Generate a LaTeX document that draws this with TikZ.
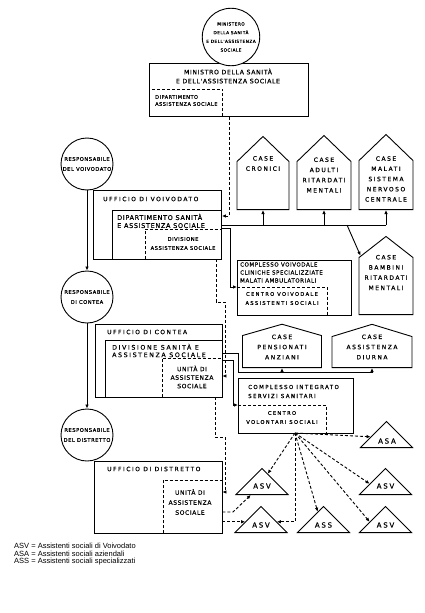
\documentclass[tikz,border=0pt]{standalone}
\usepackage{fontspec}
\setmainfont{Liberation Sans}
\newfontfamily\scritta[LetterSpace=10, FakeBold=0.4]{DejaVu Sans}
\newfontfamily\scrittalarga[LetterSpace=25, FakeBold=0.4]{DejaVu Sans}
\usetikzlibrary{shapes.geometric,shapes.symbols,arrows.meta}

\newcommand{\fgrande}{\scritta\fontsize{6.2}{9}\selectfont}
\newcommand{\fmedio}{\scritta\fontsize{6.5}{8}\selectfont}
\newcommand{\fufficio}{\scrittalarga\fontsize{6}{8}\selectfont}
\newcommand{\fpiccolo}{\scritta\fontsize{5}{7}\selectfont}
\newcommand{\fcerchio}{\scritta\fontsize{5.2}{10}\selectfont}
\newcommand{\fcasa}{\scrittalarga\fontsize{6}{10.2}\selectfont}
\newcommand{\fsigla}{\scrittalarga\fontsize{7}{8}\selectfont}

\tikzset{
  linea/.style={line width=0.9pt},
  testo/.style={inner sep=0pt, align=center, font=\fmedio},
  ufficio/.style={draw, linea, rectangle, anchor=north west, inner sep=0pt},
  sottobox/.style={rectangle, anchor=north west, inner sep=0pt},
  cerchio/.style={draw, linea, circle, minimum size=52pt, inner sep=0pt, fill=white, align=center, font=\fcerchio},
  casa/.style={draw, linea, signal, signal to=north, signal from=nowhere, inner sep=0pt, anchor=south},
  triangolo/.style={draw, linea, isosceles triangle, isosceles triangle apex angle=90,
    isosceles triangle stretches, shape border rotate=90, inner sep=0pt,
    minimum width=52pt, minimum height=26pt, anchor=lower side},
  freccia/.style={linea, -{Latex[length=4pt,width=3.5pt]}},
  tratto/.style={linea, dash pattern=on 3pt off 2pt},
}

\begin{document}
\begin{tikzpicture}[x=1pt, y=-1pt]
  \useasboundingbox (0,0) rectangle (424,613);

  % Ministero
  \node[ufficio, minimum width=159pt, minimum height=53pt] (ministro) at (149,63) {};
  \node[sottobox, minimum width=73pt, minimum height=27pt] (dipm) at (149,89) {};
  \draw[tratto] (dipm.south east) |- (dipm.north west);
  \node[cerchio, font=\scritta\fontsize{4.3}{8.7}\selectfont] (ministero) at (231,37) {MINISTERO\\DELLA SANITÀ\\E DELL'ASSISTENZA\\SOCIALE};
  \node[testo, font=\fgrande] (ministro-t) at (228,76) {MINISTRO DELLA SANITÀ\\E DELL'ASSISTENZA SOCIALE};
  \node[testo, font=\fpiccolo, align=left, anchor=west] (dipm-t) at (155,100.5) {DIPARTIMENTO\\ASSISTENZA SOCIALE};

  % Voivodato
  \node[ufficio, minimum width=128pt, minimum height=69pt] (ufv) at (93,190) {};
  \node[ufficio, minimum width=109pt, minimum height=49pt] (dipv) at (112,210) {};
  \node[sottobox, minimum width=76pt, minimum height=30pt] (divv) at (145,229) {};
  \draw[tratto] (divv.south west) |- (divv.north east);
  \node[cerchio] (resv) at (87,164) {RESPONSABILE\\DEL VOIVODATO};
  \node[testo, font=\fufficio, anchor=west] (ufv-t) at (103,199) {UFFICIO DI VOIVODATO};
  \node[testo, align=left, anchor=west] (dipv-t) at (117,221) {DIPARTIMENTO SANITÀ\\E ASSISTENZA SOCIALE};
  \node[testo, font=\scritta\fontsize{5.2}{9}\selectfont] (divv-t) at (183,243.5) {DIVISIONE\\ASSISTENZA SOCIALE};

  % Contea
  \node[ufficio, minimum width=127pt, minimum height=73pt] (ufc) at (95,324) {};
  \node[ufficio, minimum width=117pt, minimum height=57pt] (divc) at (105,340) {};
  \node[sottobox, minimum width=60pt, minimum height=39pt] (unc) at (162,358) {};
  \draw[tratto] (unc.south west) |- (unc.north east);
  \node[cerchio] (resc) at (87,297) {RESPONSABILE\\DI CONTEA};
  \node[testo, font=\fufficio, anchor=west] (ufc-t) at (107,332) {UFFICIO DI CONTEA};
  \node[testo, font=\scrittalarga\fontsize{6.3}{7.5}\selectfont, align=left, anchor=west] (divc-t) at (112,350.5) {DIVISIONE SANITÀ E\\ASSISTENZA SOCIALE};
  \node[testo, font=\scritta\fontsize{6}{8.5}\selectfont] (unc-t) at (192,377) {UNITÀ DI\\ASSISTENZA\\SOCIALE};

  % Distretto
  \node[ufficio, minimum width=128pt, minimum height=72pt] (ufd) at (94,461) {};
  \node[sottobox, minimum width=59pt, minimum height=53pt] (und) at (163,480) {};
  \draw[tratto] (und.south west) |- (und.north east);
  \node[cerchio] (resd) at (87,435) {RESPONSABILE\\DEL DISTRETTO};
  \node[testo, font=\fufficio, anchor=west] (ufd-t) at (107,469) {UFFICIO DI DISTRETTO};
  \node[testo, font=\scritta\fontsize{6}{10}\selectfont] (und-t) at (190,502) {UNITÀ DI\\ASSISTENZA\\SOCIALE};

  % Case
  \node[casa, minimum width=52pt, minimum height=48pt, signal pointer angle=92] (cronici) at (263,210) {};
  \node[casa, minimum width=54pt, minimum height=48pt, signal pointer angle=92] (adulti) at (324,210) {};
  \node[casa, minimum width=54pt, minimum height=49pt, signal pointer angle=92] (malati) at (386,210) {};
  \node[casa, minimum width=54pt, minimum height=57pt, signal pointer angle=104] (bambini) at (386,315) {};
  \node[casa, minimum width=79pt, minimum height=32pt, signal pointer angle=148] (pensionati) at (282,368) {};
  \node[casa, minimum width=80pt, minimum height=31pt, signal pointer angle=146] (diurna) at (372,368) {};
  \node[testo, font=\fcasa] (cronici-t) at (263,163.5) {CASE\\CRONICI};
  \node[testo, font=\fcasa] (adulti-t) at (324,175) {CASE\\ADULTI\\RITARDATI\\MENTALI};
  \node[testo, font=\fcasa] (malati-t) at (386,179) {CASE\\MALATI\\SISTEMA\\NERVOSO\\CENTRALE};
  \node[testo, font=\fcasa] (bambini-t) at (386,272.5) {CASE\\BAMBINI\\RITARDATI\\MENTALI};
  \node[testo, font=\fcasa] (pensionati-t) at (282,347) {CASE\\PENSIONATI\\ANZIANI};
  \node[testo, font=\fcasa] (diurna-t) at (372,347) {CASE\\ASSISTENZA\\DIURNA};

  % Complessi
  \node[ufficio, minimum width=114pt, minimum height=55pt] (covo) at (237,260) {};
  \node[sottobox, minimum width=90pt, minimum height=28pt] (cvc) at (237,287) {};
  \draw[tratto] (cvc.north west) -| (cvc.south east);
  \node[testo, font=\scritta\fontsize{5.5}{8}\selectfont, align=left, anchor=west] (covo-t) at (240,272.5) {COMPLESSO VOIVODALE\\CLINICHE SPECIALIZZIATE\\MALATI AMBULATORIALI};
  \node[testo, font=\scrittalarga\fontsize{5.2}{9}\selectfont] (cvc-t) at (282,298.5) {CENTRO VOIVODALE\\ASSISTENTI SOCIALI};
  \node[ufficio, minimum width=115pt, minimum height=55pt] (coint) at (238,378) {};
  \node[sottobox, minimum width=88pt, minimum height=28pt] (cvs) at (238,405) {};
  \draw[tratto] (cvs.north west) -| (cvs.south east);
  \node[testo, font=\scrittalarga\fontsize{5.5}{9}\selectfont, align=left, anchor=west] (coint-t) at (248,391.5) {COMPLESSO INTEGRATO\\SERVIZI SANITARI};
  \node[testo, font=\scrittalarga\fontsize{5.2}{9}\selectfont] (cvs-t) at (282,417.5) {CENTRO\\VOLONTARI SOCIALI};

  % Assistenti sociali
  \node[triangolo] (asa) at (386.5,448) {};
  \node[triangolo] (asvA) at (262,495) {};
  \node[triangolo] (asvB) at (261,533) {};
  \node[triangolo] (ass) at (323.5,533) {};
  \node[triangolo] (asvC) at (385.5,495) {};
  \node[triangolo] (asvD) at (385.5,533) {};
  \node[testo, font=\fsigla] (asa-t) at (387,441) {ASA};
  \node[testo, font=\fsigla] (asvA-t) at (262,486) {ASV};
  \node[testo, font=\fsigla] (asvB-t) at (261,525) {ASV};
  \node[testo, font=\fsigla] (ass-t) at (323.5,525) {ASS};
  \node[testo, font=\fsigla] (asvC-t) at (385.5,486) {ASV};
  \node[testo, font=\fsigla] (asvD-t) at (385.5,525) {ASV};

  % Collegamenti
  \draw[freccia] (resv) -- (resc);
  \draw[freccia] (resc) -- (resd);
  \coordinate (m1) at (229,216);
  \draw[tratto, freccia] (ministro.south -| m1) -- (m1) -- (m1 -| dipv.east);
  \coordinate (b0) at (221,225);
  \coordinate (b1) at (386,225);
  \coordinate (b2) at (347,225);
  \draw[linea] (b0) -- (b1);
  \draw[freccia] (cronici.south |- b0) -- (cronici.south);
  \draw[freccia] (adulti.south |- b0) -- (adulti.south);
  \draw[freccia] (malati.south |- b0) -- (malati.south);
  \draw[freccia] (b2) -- (bambini.130);
  \coordinate (b3) at (230,228);
  \draw[freccia] (dipv.east |- b3) -- (b3) |- (cvc.north west);
  \coordinate (d1) at (216,302);
  \coordinate (d2) at (225,376);
  \draw[tratto, freccia] (divv.south -| d1) -- (d1) -| (d2) -- (d2 -| unc.east);
  \coordinate (d3) at (215,437);
  \coordinate (d4) at (225,492);
  \draw[tratto, freccia] (unc.south -| d3) -- (d3) -| (d4) -- (d4 -| und.east);
  \coordinate (c1) at (238,353);
  \coordinate (c2) at (372,372);
  \draw[linea] (divc.east |- c1) -- (c1) |- (c2);
  \draw[freccia] (pensionati.south |- c2) -- (pensionati.south);
  \draw[freccia] (diurna.south |- c2) -- (diurna.south);
  \coordinate (c3) at (233,360);
  \draw[freccia] (divc.east |- c3) -- (c3) |- (cvs.north west);
  \coordinate (fonte) at (295,433);
  \draw[tratto, freccia] (fonte) -- (asa.west);
  \draw[tratto, freccia] (fonte) -- (asvA.60);
  \draw[tratto, freccia] (fonte) |- (asvB.east);
  \draw[tratto, freccia] (fonte) -- (ass.120);
  \draw[tratto, freccia] (fonte) -- (asvC.west);
  \draw[tratto, freccia] (fonte) -- (asvD.west);
  \coordinate (e1) at (233,512);
  \draw[tratto, freccia] (und.east |- e1) -- (e1) -- (asvA.225);
  \draw[tratto, freccia] (und.east |- asvB.west) -- (asvB.west);

  % Legenda
  \node[anchor=north west, align=left, inner sep=0pt, font=\fontsize{7.5}{7.6}\selectfont] (legenda) at (14,543) {ASV = Assistenti sociali di Voivodato\\ASA = Assistenti sociali aziendali\\ASS = Assistenti sociali specializzati};
\end{tikzpicture}
\end{document}
